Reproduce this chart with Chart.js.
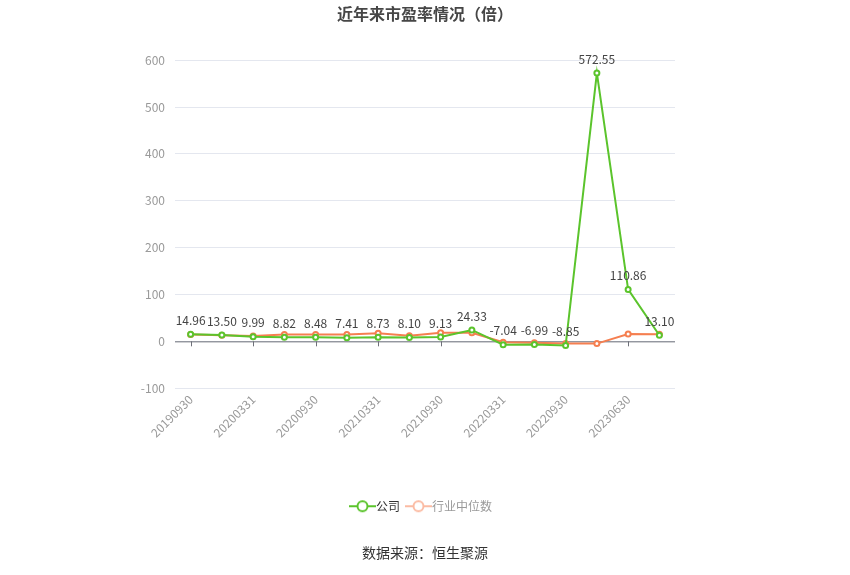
<!DOCTYPE html>
<html>
<head>
<meta charset="utf-8">
<script src="https://cdn.jsdelivr.net/npm/chart.js@4.4.1/dist/chart.umd.min.js"></script>
<style>
    html, body { margin: 0; padding: 0; background: #fff; }
    #wrap { width: 850px; height: 575px; position: relative; }
</style>
</head>
<body>
<div id="wrap"><canvas id="pe-chart"></canvas></div>
<script>
// 报告期
const periods = ['20190930', '20191231', '20200331', '20200630', '20200930', '20201231',
    '20210331', '20210630', '20210930', '20211231', '20220331', '20220630',
    '20220930', '20230331', '20230630', '20230930'];
// 公司市盈率
const companyPE = [14.96, 13.50, 9.99, 8.82, 8.48, 7.41, 8.73, 8.10, 9.13, 24.33,
    -7.04, -6.99, -8.85, 572.55, 110.86, 13.10];
// 行业中位数 (estimated)
const industryPE = [14.5, 13.2, 11.5, 14.8, 14.6, 14.6, 17.5, 11.8, 18.2, 18.5,
    -1.8, -3.2, -4.6, -4.8, 15.6, 15.2];

const GREEN = '#5bc42c';
const ORANGE = '#f57f50';
const FONT = "'Noto Sans CJK SC', 'Noto Sans', sans-serif";

// legend icon: line with hollow circle
function makeIcon(color) {
    const c = document.createElement('canvas');
    c.width = 30; c.height = 14;
    const ctx = c.getContext('2d');
    ctx.strokeStyle = color;
    ctx.lineWidth = 2;
    ctx.beginPath();
    ctx.moveTo(0, 7); ctx.lineTo(27, 7);
    ctx.stroke();
    ctx.beginPath();
    ctx.arc(13.5, 7, 5, 0, Math.PI * 2);
    ctx.fillStyle = '#fff';
    ctx.fill();
    ctx.stroke();
    return c;
}

// value labels above company points
const valueLabels = {
    id: 'valueLabels',
    afterDatasetsDraw(chart) {
        const ctx = chart.ctx;
        const meta = chart.getDatasetMeta(0);
        ctx.save();
        ctx.font = '12px ' + FONT;
        ctx.fillStyle = '#444';
        ctx.textAlign = 'center';
        ctx.textBaseline = 'bottom';
        meta.data.forEach((pt, i) => {
            ctx.fillText(companyPE[i].toFixed(2), pt.x, pt.y - 8);
        });
        ctx.restore();
    }
};

// axis line at zero with tick marks
const zeroAxis = {
    id: 'zeroAxis',
    beforeDatasetsDraw(chart) {
        const ctx = chart.ctx;
        const x = chart.scales.x;
        const y0 = chart.scales.y.getPixelForValue(0);
        ctx.save();
        ctx.strokeStyle = '#6e7079';
        ctx.lineWidth = 1;
        ctx.beginPath();
        ctx.moveTo(chart.chartArea.left, y0 + 0.5);
        ctx.lineTo(chart.chartArea.right, y0 + 0.5);
        periods.forEach((p, i) => {
            if (i % 2 === 0) {
                const px = Math.round(x.getPixelForValue(i)) + 0.5;
                ctx.moveTo(px, y0);
                ctx.lineTo(px, y0 + 5);
            }
        });
        ctx.stroke();
        ctx.restore();
    }
};

new Chart(document.getElementById('pe-chart'), {
    type: 'line',
    data: {
        labels: periods,
        datasets: [
            {
                label: '公司',
                data: companyPE,
                borderColor: GREEN,
                backgroundColor: '#fff',
                borderWidth: 2,
                pointRadius: 2.5,
                pointBorderWidth: 2,
                pointBackgroundColor: '#fff',
                tension: 0
            },
            {
                label: '行业中位数',
                data: industryPE,
                borderColor: ORANGE,
                backgroundColor: '#fff',
                borderWidth: 2,
                pointRadius: 2.5,
                pointBorderWidth: 2,
                pointBackgroundColor: '#fff',
                tension: 0
            }
        ]
    },
    options: {
        responsive: true,
        maintainAspectRatio: false,
        animation: false,
        layout: {
            padding: { left: 0, right: 0, top: 0, bottom: 6 }
        },
        plugins: {
            title: {
                display: true,
                text: '近年来市盈率情况（倍）',
                color: '#464646',
                font: { family: FONT, size: 16, weight: 'bold' },
                padding: { top: 4, bottom: 37 }
            },
            subtitle: {
                display: true,
                position: 'bottom',
                text: '数据来源：恒生聚源',
                color: '#333',
                font: { family: FONT, size: 14 },
                padding: { top: 22, bottom: 8 }
            },
            legend: {
                position: 'bottom',
                labels: {
                    usePointStyle: true,
                    padding: 14,
                    font: { family: FONT, size: 12 },
                    generateLabels(chart) {
                        return chart.data.datasets.map((ds, i) => ({
                            text: ds.label,
                            pointStyle: makeIcon(i === 0 ? GREEN : '#fbbba3'),
                            fontColor: i === 0 ? '#333' : '#999',
                            strokeStyle: 'transparent',
                            fillStyle: 'transparent',
                            lineWidth: 0,
                            hidden: false,
                            datasetIndex: i
                        }));
                    }
                }
            },
            tooltip: { enabled: false }
        },
        scales: {
            x: {
                offset: true,
                grid: { display: false, drawTicks: false },
                border: { display: false },
                ticks: {
                    autoSkip: false,
                    minRotation: 45,
                    maxRotation: 45,
                    padding: 4,
                    color: '#999',
                    font: { family: FONT, size: 12 },
                    callback(value, index) {
                        return index % 2 === 0 ? periods[index] : '';
                    }
                },
                afterFit(scale) { scale.height = 98; }
            },
            y: {
                min: -100,
                max: 600,
                grid: {
                    color: '#e4e7ef',
                    drawTicks: false
                },
                border: { display: false },
                ticks: {
                    stepSize: 100,
                    padding: 10,
                    color: '#999',
                    font: { family: FONT, size: 12 }
                },
                afterFit(scale) { scale.width = 175; }
            },
            // empty right-hand axis, only reserves space so the plot sits centred
            yRight: {
                position: 'right',
                min: -100,
                max: 600,
                grid: { display: false },
                border: { display: false },
                ticks: { display: false },
                afterFit(scale) { scale.width = 175; }
            }
        }
    },
    plugins: [zeroAxis, valueLabels]
});
</script>
</body>
</html>
